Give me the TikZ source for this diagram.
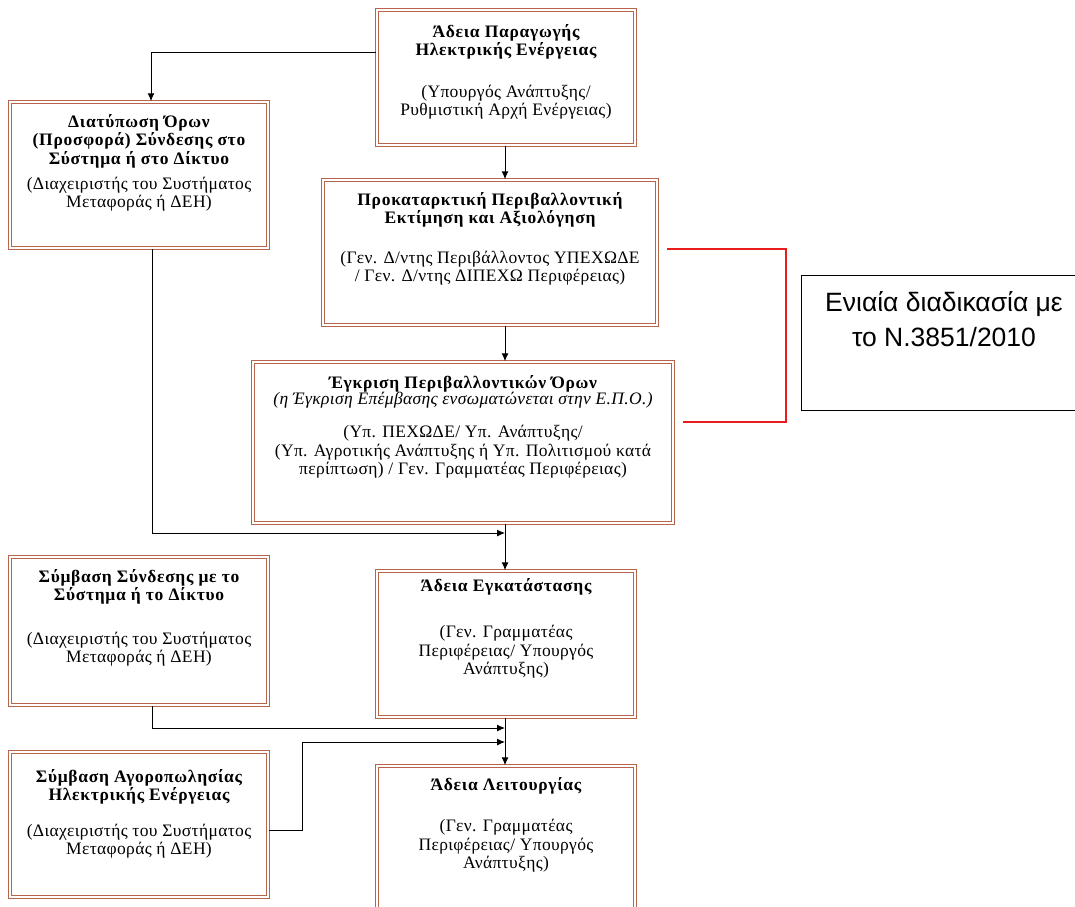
\documentclass[tikz,border=0pt]{standalone}
\usepackage{fontspec}
\setmainfont{Liberation Serif}
\newfontfamily\arialf{Liberation Sans}
\newfontfamily\ttlfont[LetterSpace=4]{Liberation Serif}
\newfontfamily\bdyfont[LetterSpace=2]{Liberation Serif}
\usetikzlibrary{arrows.meta}
\definecolor{boxbrown}{RGB}{182,100,74}
\definecolor{redline}{RGB}{232,28,28}
\begin{document}
\begin{tikzpicture}[x=1pt,y=-1pt,
  box/.style={draw=boxbrown, double=white, double distance=1.2pt, line width=1.5pt, fill=white, inner sep=0pt},
  ttl/.style={font=\ttlfont\fontsize{17.5}{18.5}\selectfont\bfseries, align=center, inner sep=0pt},
  bdy/.style={font=\bdyfont\fontsize{17.5}{18.5}\selectfont, align=center, inner sep=0pt},
  conn/.style={line width=1pt, -{Latex[length=8pt,width=7pt]}},
  redl/.style={draw=redline, line width=1.2pt},
  note/.style={draw=black, line width=1pt, fill=white, inner sep=0pt}]
\useasboundingbox[fill=white] (0,0) rectangle (1075,906);

% boxes
\node[box, minimum width=258pt, minimum height=135pt] (A) at (506,77.5) {};
\node[box, minimum width=258pt, minimum height=146pt] (B) at (139,175) {};
\node[box, minimum width=334pt, minimum height=145pt] (C) at (490,252.5) {};
\node[box, minimum width=420pt, minimum height=161pt] (D) at (463,442.5) {};
\node[box, minimum width=258pt, minimum height=148pt] (E) at (139,631) {};
\node[box, minimum width=258pt, minimum height=146pt] (F) at (506,644) {};
\node[box, minimum width=258pt, minimum height=145pt] (G) at (139,824.5) {};
\node[box, minimum width=258pt, minimum height=150pt] (H) at (506,841) {};
\node[note, minimum width=280pt, minimum height=135pt] (I) at (941,342.5) {};

% texts
\node[ttl] (At) at (506,42) {Άδεια Παραγωγής\\Ηλεκτρικής Ενέργειας};
\node[bdy] (Ab) at (506,102) {(Υπουργός Ανάπτυξης/\\Ρυθμιστική Αρχή Ενέργειας)};

\node[ttl] (Bt) at (139,141) {Διατύπωση Όρων\\(Προσφορά) Σύνδεσης στο\\Σύστημα ή στο Δίκτυο};
\node[bdy] (Bb) at (139,194) {(Διαχειριστής του Συστήματος\\Μεταφοράς ή ΔΕΗ)};

\node[ttl] (Ct) at (490,210) {Προκαταρκτική Περιβαλλοντική\\Εκτίμηση και Αξιολόγηση};
\node[bdy] (Cb) at (490,268) {(Γεν. Δ/ντης Περιβάλλοντος ΥΠΕΧΩΔΕ\\/ Γεν. Δ/ντης ΔΙΠΕΧΩ Περιφέρειας)};

\node[ttl] (Dt) at (463,384) {Έγκριση Περιβαλλοντικών Όρων};
\node[bdy, font=\bdyfont\fontsize{17.5}{18.5}\selectfont\itshape] (Di) at (463,400) {(η Έγκριση Επέμβασης ενσωματώνεται στην Ε.Π.Ο.)};
\node[bdy] (Db) at (463,452) {(Υπ. ΠΕΧΩΔΕ/ Υπ. Ανάπτυξης/\\(Υπ. Αγροτικής Ανάπτυξης ή Υπ. Πολιτισμού κατά\\περίπτωση) / Γεν. Γραμματέας Περιφέρειας)};

\node[ttl] (Et) at (139,587) {Σύμβαση Σύνδεσης με το\\Σύστημα ή το Δίκτυο};
\node[bdy] (Eb) at (139,649) {(Διαχειριστής του Συστήματος\\Μεταφοράς ή ΔΕΗ)};

\node[ttl] (Ft) at (506,587) {Άδεια Εγκατάστασης};
\node[bdy] (Fb) at (506,652) {(Γεν. Γραμματέας\\Περιφέρειας/ Υπουργός\\Ανάπτυξης)};

\node[ttl] (Gt) at (139,787) {Σύμβαση Αγοροπωλησίας\\Ηλεκτρικής Ενέργειας};
\node[bdy] (Gb) at (139,841) {(Διαχειριστής του Συστήματος\\Μεταφοράς ή ΔΕΗ)};

\node[ttl] (Ht) at (506,786) {Άδεια Λειτουργίας};
\node[bdy] (Hb) at (506,846) {(Γεν. Γραμματέας\\Περιφέρειας/ Υπουργός\\Ανάπτυξης)};

\node[font=\arialf\fontsize{26.5}{35}\selectfont, align=center, inner sep=0pt] (It) at (944,319.5) {Ενιαία διαδικασία με\\το Ν.3851/2010};

% helper coordinates
\coordinate (colx) at (505,0);
\coordinate (lx) at (152,0);
\coordinate (ab) at (151,52);
\coordinate (m1) at (505,533);
\coordinate (m2) at (505,728);
\coordinate (m3) at (505,742);
\coordinate (g1) at (302,830);

% connectors
\draw[conn] (A.west |- ab) -- (ab) -- (ab |- B.north);
\draw[conn] (A.south -| colx) -- (C.north -| colx);
\draw[conn] (C.south -| colx) -- (D.north -| colx);
\draw[conn] (B.south -| lx) -- (lx |- m1) -- (m1);
\draw[conn] (D.south -| colx) -- (F.north -| colx);
\draw[conn] (E.south -| lx) -- (lx |- m2) -- (m2);
\draw[conn] (G.east |- g1) -- (g1) -- (g1 |- m3) -- (m3);
\draw[conn] (F.south -| colx) -- (H.north -| colx);

% red bracket
\coordinate (r1) at (667,249);
\coordinate (r2) at (786,249);
\coordinate (r3) at (786,422);
\coordinate (r4) at (683,422);
\draw[redl] (r1) -- (r2) -- (r3) -- (r4);
\end{tikzpicture}
\end{document}
